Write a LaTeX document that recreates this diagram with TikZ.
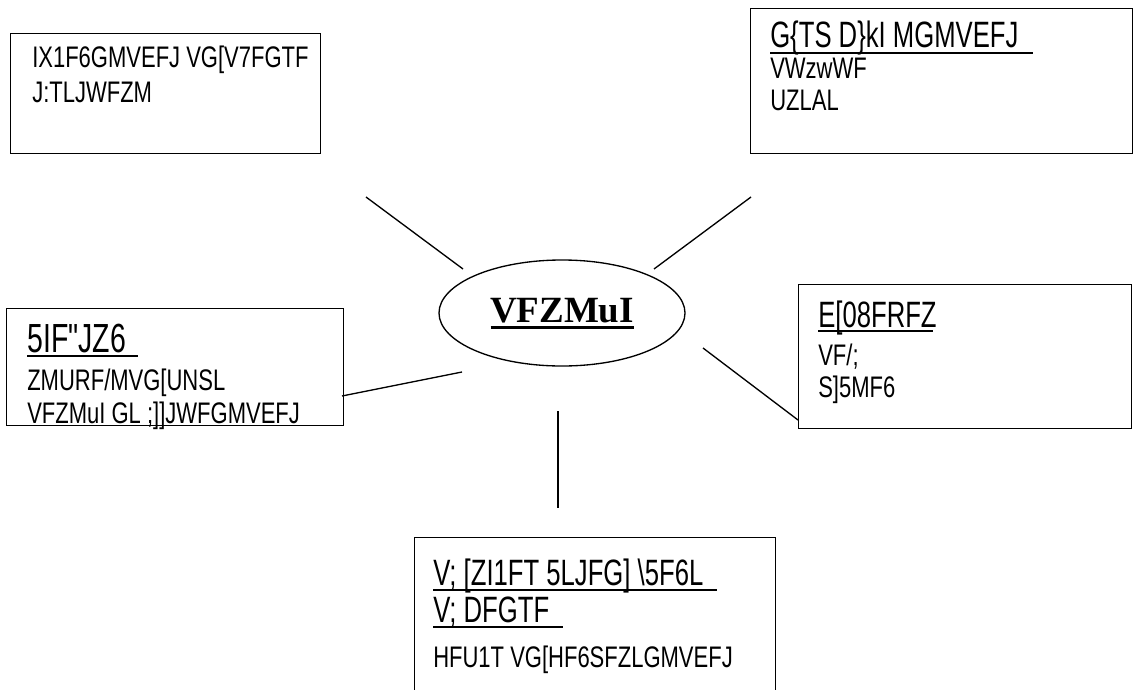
\documentclass[tikz,border=0pt]{standalone}
\usepackage{fontspec}
\usepackage{tikz}
\usetikzlibrary{shapes.geometric}
\setmainfont{Liberation Serif}
\newfontfamily\narrowfont[FakeStretch=0.74]{Liberation Sans}
\newfontfamily\headfont[FakeStretch=0.7]{Liberation Sans}

\tikzset{
	box/.style={draw=black, line width=1pt, inner sep=0pt, anchor=north west},
	txt/.style={inner sep=0pt, anchor=base west, font=\narrowfont\fontsize{22.3}{25}\selectfont},
	head/.style={txt, font=\headfont\fontsize{27.5}{30}\selectfont},
	bighead/.style={txt, font=\headfont\fontsize{30.5}{33}\selectfont},
	hub/.style={shape=ellipse, draw=black, line width=1pt, inner sep=0pt,
		minimum width=184.5pt, minimum height=79.5pt, text height=18.75pt, text depth=5.25pt,
		font=\bfseries\fontsize{27.75}{30}\selectfont},
	lnk/.style={line width=1pt},
	uline/.style={line width=1.5pt}
}

\begin{document}
\begin{tikzpicture}[x=0.75pt, y=-0.75pt]
	\useasboundingbox (0,0) rectangle (1134,689);

	% boxes
	\node[box, minimum width=232.5pt, minimum height=90pt] (tlbox) at (10,33) {};
	\node[box, minimum width=286.5pt, minimum height=108.75pt] (trbox) at (750,8) {};
	\node[box, minimum width=252.75pt, minimum height=87.75pt] (mlbox) at (6,308) {};
	\node[box, minimum width=249.75pt, minimum height=108pt] (mrbox) at (798,284) {};
	\node[box, minimum width=270.75pt, minimum height=140pt] (bbox) at (414,537) {};

	\node[hub] (hub) at (562,313) {VFZMuI};

	% texts
	\node[txt] (tl1) at (32,67) {IX1F6GMVEFJ VG[V7FGTF};
	\node[txt] (tl2) at (32,102) {J:TLJWFZM};

	\node[head] (trh) at (770,47) {G\{TS D\}kI MGMVEFJ};
	\node[txt] (tr1) at (770,78) {VWzwWF};
	\node[txt] (tr2) at (770,110) {UZLAL};

	\node[bighead] (mlh) at (27,352) {5IF"JZ6};
	\node[txt] (ml1) at (27,390) {ZMURF/MVG[UNSL};
	\node[txt] (ml2) at (27,423) {VFZMuI GL ;]]JWFGMVEFJ};

	\node[head] (mrh) at (818,327) {E[08FRFZ};
	\node[txt] (mr1) at (818,365) {VF/;};
	\node[txt] (mr2) at (818,397) {S]5MF6};

	\node[head] (bh1) at (433,585) {V; [ZI1FT 5LJFG] \textbackslash 5F6L};
	\node[head] (bh2) at (433,622) {V; DFGTF};
	\node[txt] (b1) at (433,667) {HFU1T VG[HF6SFZLGMVEFJ};

	% underlines
	\draw[uline, line width=2.25pt] (hub.base) ++(-71.5,5) -- ++(143,0);
	\draw[uline] (trh.base west) ++(0,6) -- ++(263,0);
	\draw[uline] (mlh.base west) ++(0,3.5) -- ++(111,0);
	\draw[uline] (mrh.base west) ++(0,4) -- ++(115,0);
	\draw[uline] (bh1.base west) ++(0,5) -- ++(284,0);
	\draw[uline] (bh2.base west) ++(0,5) -- ++(130,0);

	% spokes
	\coordinate (a1) at (366,197);
	\coordinate (a2) at (463,269);
	\coordinate (b1) at (751,197);
	\coordinate (b2) at (654,269);
	\coordinate (c1) at (342,396);
	\coordinate (c2) at (462,372);
	\coordinate (d1) at (703,348);
	\coordinate (d2) at (798,420);
	\coordinate (e1) at (558,411);
	\coordinate (e2) at (558,508);

	\path[lnk] (a1) edge (a2);
	\path[lnk] (b1) edge (b2);
	\path[lnk] (c1) edge (c2);
	\path[lnk] (d1) edge (d2);
	\path[lnk] (e1) edge (e2);
\end{tikzpicture}
\end{document}
